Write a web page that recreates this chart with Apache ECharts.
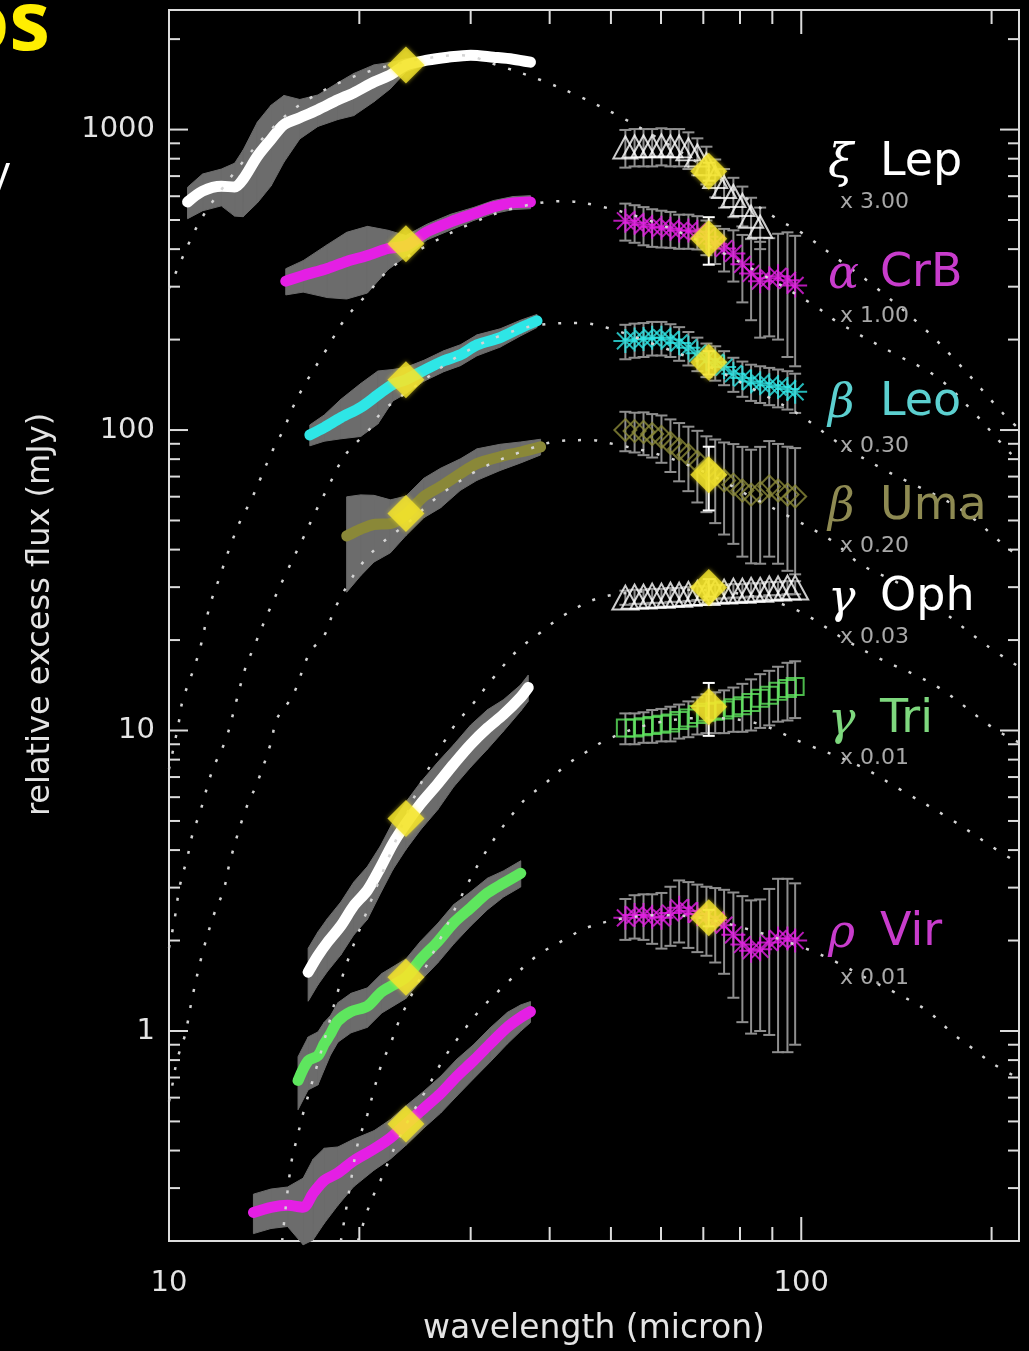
<!DOCTYPE html>
<html>
<head>
<meta charset="utf-8">
<script src="https://cdn.jsdelivr.net/npm/echarts/dist/echarts.min.js"></script>
<style>
  html, body { margin: 0; padding: 0; background: #000; }
  #chart { width: 1029px; height: 1351px; }
</style>
</head>
<body>
<div id="chart"></div>
<script>
// ---------------- Axis ticks ----------------
const xMajorTicks = [10, 100];
const xMinorTicks = [20, 30, 40, 50, 60, 70, 80, 90, 200];
const yMajorTicks = [1, 10, 100, 1000];
const yMinorTicks = [0.3, 0.4, 0.5, 0.6, 0.7, 0.8, 0.9, 2, 3, 4, 5, 6, 7, 8, 9,
  20, 30, 40, 50, 60, 70, 80, 90, 200, 300, 400, 500, 600, 700, 800, 900, 2000];

// ---------------- Star names and scale factors ----------------
const starGreek = ['ξ', 'α', 'β', 'β', 'γ', 'γ', 'ρ'];
const starNames = ['Lep', 'CrB', 'Leo', 'Uma', 'Oph', 'Tri', 'Vir'];
const starScales = ['x 3.00', 'x 1.00', 'x 0.30', 'x 0.20', 'x 0.03', 'x 0.01', 'x 0.01'];

// ---------------- IRS spectra: wavelength (micron), flux (mJy), fractional error ----------------
const irsLepWave = [10.7, 11.3, 12.1, 12.7, 13.1, 13.8, 14.5, 15.2, 16.1, 17.2, 18.5, 19.6, 21.1, 22.4, 23.7, 25.6, 27.6, 30.0, 32.6, 35.0, 37.3];
const irsLepFlux = [574, 624, 648, 644, 684, 815, 927, 1039, 1095, 1164, 1256, 1325, 1440, 1520, 1639, 1702, 1741, 1768, 1741, 1715, 1676];
const irsLepErr  = [0.12, 0.14, 0.14, 0.2, 0.25, 0.3, 0.3, 0.25, 0.15, 0.12, 0.14, 0.16, 0.14, 0.1, 0.05, 0.03, 0.03, 0.03, 0.03, 0.03, 0.03];

const irsCrbWave = [15.3, 16.3, 17.8, 19.1, 20.6, 22.2, 23.7, 25.6, 27.9, 30.3, 32.6, 35.0, 37.3];
const irsCrbFlux = [313, 327, 345, 364, 381, 402, 411, 457, 493, 524, 553, 570, 574];
const irsCrbErr  = [0.1, 0.12, 0.2, 0.25, 0.25, 0.15, 0.08, 0.06, 0.06, 0.05, 0.05, 0.05, 0.05];

const irsLeoWave = [16.7, 17.6, 18.7, 20.1, 21.4, 22.6, 23.7, 25.3, 27.2, 28.9, 30.7, 33.4, 36.0, 38.2];
const irsLeoFlux = [96.3, 102, 110, 119, 131, 142, 147, 158, 170, 178, 192, 203, 219, 231];
const irsLeoErr  = [0.08, 0.1, 0.15, 0.2, 0.2, 0.12, 0.1, 0.08, 0.08, 0.08, 0.08, 0.07, 0.06, 0.05];

const irsUmaWave = [19.1, 20.1, 21.1, 22.4, 23.7, 25.3, 26.9, 28.9, 30.7, 33.4, 36.0, 38.7];
const irsUmaFlux = [44.4, 46.8, 48.5, 48.8, 52.4, 60.1, 64.9, 71.6, 77.3, 81.5, 84.5, 87.9];
const irsUmaErr  = [0.35, 0.3, 0.25, 0.2, 0.15, 0.15, 0.15, 0.12, 0.12, 0.1, 0.08, 0.06];

const irsOphWave = [16.6, 17.2, 17.8, 18.7, 19.6, 20.6, 21.6, 22.6, 23.7, 25.0, 26.6, 28.2, 30.0, 31.9, 33.8, 36.0, 37.0];
const irsOphFlux = [1.57, 1.78, 1.97, 2.24, 2.61, 2.94, 3.5, 4.2, 4.9, 5.7, 6.64, 7.73, 8.99, 10.2, 11.3, 12.9, 13.9];
const irsOphErr  = [0.2, 0.2, 0.2, 0.2, 0.2, 0.2, 0.18, 0.18, 0.18, 0.18, 0.18, 0.16, 0.16, 0.15, 0.12, 0.1, 0.1];

const irsTriWave = [16.0, 16.6, 17.2, 17.6, 18.0, 18.5, 19.4, 20.6, 21.7, 23.7, 25.0, 26.6, 28.2, 30.0, 31.9, 33.8, 36.0];
const irsTriFlux = [0.684, 0.796, 0.827, 0.906, 0.977, 1.08, 1.16, 1.21, 1.35, 1.51, 1.73, 1.98, 2.29, 2.57, 2.88, 3.10, 3.35];
const irsTriErr  = [0.2, 0.2, 0.2, 0.18, 0.15, 0.15, 0.15, 0.15, 0.15, 0.15, 0.15, 0.15, 0.15, 0.13, 0.12, 0.1, 0.1];

const irsVirWave = [13.6, 14.5, 15.4, 16.3, 16.9, 17.6, 18.5, 19.6, 21.1, 22.4, 23.7, 25.3, 26.9, 28.5, 30.3, 32.2, 34.3, 36.0, 37.3];
const irsVirFlux = [0.249, 0.259, 0.263, 0.259, 0.288, 0.318, 0.337, 0.370, 0.405, 0.441, 0.490, 0.553, 0.620, 0.705, 0.796, 0.906, 1.03, 1.11, 1.16];
const irsVirErr  = [0.15, 0.15, 0.15, 0.25, 0.3, 0.28, 0.22, 0.18, 0.15, 0.15, 0.15, 0.14, 0.14, 0.14, 0.13, 0.13, 0.12, 0.1, 0.08];

// ---------------- MIPS SED points: wavelength (micron), flux (mJy), error (mJy) ----------------
const mipsWave = [52.7, 54.5, 56.3, 58.1, 60.1, 62.1, 64.1, 66.3, 68.5, 70.8, 73.1, 75.5, 78.1, 80.7, 83.3, 86.1, 89.0, 91.9, 95.1, 97.8];

const mipsLepWave = [52.7, 54.5, 56.3, 58.1, 60.1, 62.1, 64.1, 66.3, 68.5, 70.8, 73.1, 75.5, 78.1, 80.7, 83.3, 86.1];
const mipsLepFlux = [872, 879, 879, 879, 885, 879, 879, 859, 820, 767, 695, 644, 601, 561, 513, 475];
const mipsLepErr  = [125, 125, 125, 125, 125, 125, 125, 120, 115, 110, 100, 95, 90, 85, 80, 75];

const mipsCrbFlux = [497, 490, 482, 475, 471, 468, 461, 461, 457, 440, 417, 402, 387, 356, 332, 313, 320, 325, 315, 303];
const mipsCrbErr  = [70, 70, 70, 68, 66, 64, 60, 60, 58, 58, 60, 65, 75, 90, 100, 110, 115, 125, 140, 140];

const mipsLeoFlux = [198, 200, 201, 203, 203, 200, 195, 188, 180, 172, 168, 162, 154, 149, 145, 143, 141, 139, 137, 134];
const mipsLeoErr  = [26, 26, 26, 26, 26, 25, 25, 24, 23, 22, 22, 21, 20, 20, 20, 20, 20, 20, 20, 20];

const mipsUmaFlux = [100, 99.2, 98.5, 97.0, 94.8, 90.5, 86.5, 82.6, 78.4, 74.3, 71.0, 67.9, 65.8, 62.9, 61.0, 61.9, 64.9, 62.9, 61.0, 60.1];
const mipsUmaErr  = [15, 15, 16, 16, 17, 18, 19, 20, 21, 21, 22, 23, 24, 25, 25, 26, 27, 27, 27, 27];

const mipsOphFlux = [27.7, 27.9, 27.9, 28.1, 28.1, 28.3, 28.3, 28.5, 28.7, 28.7, 29.0, 29.0, 29.2, 29.2, 29.4, 29.4, 29.7, 29.7, 29.9, 29.9];
const mipsOphErr  = [1.5, 1.5, 1.5, 1.5, 1.5, 1.5, 1.5, 1.5, 1.5, 1.5, 1.5, 1.5, 1.5, 1.5, 1.5, 1.5, 1.5, 1.5, 1.5, 1.5];

const mipsTriFlux = [10.2, 10.2, 10.3, 10.4, 10.5, 10.6, 10.8, 11.0, 11.3, 11.5, 11.6, 11.7, 11.9, 12.1, 12.4, 12.8, 13.1, 13.5, 13.8, 14.0];
const mipsTriErr  = [1.2, 1.2, 1.2, 1.3, 1.3, 1.4, 1.4, 1.5, 1.6, 1.7, 1.8, 1.9, 2.0, 2.2, 2.4, 2.6, 2.7, 2.8, 3.0, 3.0];

const mipsVirFlux = [2.38, 2.43, 2.43, 2.40, 2.38, 2.47, 2.57, 2.51, 2.45, 2.40, 2.34, 2.25, 2.09, 1.94, 1.85, 1.87, 1.97, 2.03, 2.03, 2.0];
const mipsVirErr  = [0.37, 0.4, 0.42, 0.45, 0.5, 0.55, 0.6, 0.62, 0.62, 0.62, 0.65, 0.7, 0.8, 0.87, 0.87, 0.87, 1.0, 1.18, 1.18, 1.1];

// ---------------- MIPS 24 / 70 micron photometry (mJy) ----------------
const photWave = [23.7, 71.4];
const phot24Flux = [1639, 417, 147, 52.8, 5.1, 1.51, 0.49];
const phot70Flux = [726, 433, 168, 71, 29.9, 12.0, 2.38];
const phot70Err  = [50, 78, 15, 17, 2, 2.4, 0.15];

// ---------------- Dust models: wavelength (micron), flux (mJy) ----------------
const modelLepWave = [10.0, 10.4, 10.8, 11.2, 11.8, 13.0, 14.5, 16.1, 18.7, 21.6, 25.0, 28.9, 33.4, 38.7, 44.7, 51.7, 59.8, 69.2, 80.1, 92.6, 99.6, 115, 130, 156, 178, 209, 221];
const modelLepFlux = [296, 358, 427, 497, 587, 767, 1000, 1209, 1440, 1603, 1715, 1768, 1626, 1462, 1285, 1104, 927, 766, 610, 497, 457, 367, 303, 219, 165, 113, 101];

const modelCrbWave = [10.0, 10.35, 10.5, 10.9, 11.2, 11.6, 12.0, 12.5, 13.0, 13.45, 13.95, 14.6, 15.2, 15.7, 16.4, 17.7, 18.9, 20.5, 22.4, 25.9, 30.0, 34.7, 42.0, 48.5, 57.7, 69.2, 86.1, 104.5, 114, 140, 164, 187, 214, 221];
const modelCrbFlux = [7.43, 10.5, 12.5, 15.7, 18.8, 26.0, 32.0, 41.1, 50.5, 57.8, 68.9, 85.9, 101, 119, 142, 184, 231, 281, 345, 417, 486, 544, 578, 553, 497, 424, 332, 261, 229, 180, 150, 115, 83.9, 79.6];

const modelLeoWave = [10.0, 10.2, 10.4, 10.7, 10.9, 11.2, 11.7, 12.3, 12.8, 13.2, 13.6, 14.4, 15.3, 16.3, 17.0, 17.8, 19.0, 20.7, 21.8, 25.0, 28.9, 33.4, 38.7, 44.7, 49.3, 57.7, 69.2, 86.1, 99.6, 115, 136, 178, 212, 221];
const modelLeoFlux = [1.89, 2.34, 3.03, 3.81, 4.54, 5.36, 7.33, 9.34, 12.7, 16.1, 18.8, 25.1, 33.2, 43.7, 52.8, 63.9, 82.6, 100, 116, 144, 178, 206, 224, 227, 219, 195, 168, 133, 112, 90.0, 73.3, 54.8, 40.5, 38.1];

const modelUmaWave = [10.0, 10.1, 10.3, 10.6, 10.9, 11.3, 11.8, 12.2, 12.5, 13.2, 13.8, 14.5, 14.8, 15.7, 16.7, 17.6, 18.3, 19.9, 21.6, 23.7, 26.9, 31.1, 36.0, 41.6, 46.4, 50.4, 59.8, 71.8, 83.1, 96.1, 112, 124, 143, 162, 197, 221];
const modelUmaFlux = [0.583, 0.644, 0.802, 0.97, 1.31, 1.82, 2.47, 2.94, 3.70, 5.41, 6.73, 9.12, 10.9, 13.1, 18.2, 20.7, 25.5, 34.5, 41.7, 48.5, 61.0, 74.3, 84.5, 92.0, 92.6, 89.9, 82.6, 71.0, 60.1, 51.3, 42.7, 35.8, 30.8, 26.2, 19.1, 16.3];

const modelOphWave = [15.1, 15.6, 16.0, 16.3, 17.4, 18.9, 20.3, 22.4, 25.0, 28.2, 30.0, 32.6, 35.6, 38.7, 42.0, 47.6, 55.7, 66.8, 83.1, 98.6, 118, 132, 164, 201, 221];
const modelOphFlux = [0.2, 0.361, 0.454, 0.532, 0.853, 1.57, 2.34, 3.90, 6.64, 10.3, 12.0, 15.0, 18.5, 21.2, 24.1, 27.5, 29.0, 29.4, 28.1, 25.1, 19.9, 17.5, 14.0, 10.2, 9.12];

const modelTriWave = [18.7, 19.4, 19.9, 20.6, 21.1, 21.7, 22.4, 23.2, 25.0, 26.9, 28.9, 31.1, 33.4, 35.3, 36.9, 38.9, 42.7, 46.4, 49.3, 57.7, 69.2, 83.1, 102, 124, 143, 172, 206, 221];
const modelTriFlux = [0.2, 0.318, 0.424, 0.528, 0.638, 0.778, 0.906, 1.10, 1.51, 2.04, 2.77, 3.70, 4.65, 5.41, 6.01, 6.53, 7.73, 8.65, 9.34, 10.5, 11.0, 10.7, 8.99, 7.60, 6.38, 5.08, 3.95, 3.61];

const modelVirWave = [19.9, 20.8, 21.6, 22.8, 24.1, 25.6, 27.2, 28.9, 31.1, 34.3, 38.2, 42.7, 45.6, 51.7, 59.8, 69.2, 83.1, 101, 114, 129, 140, 158, 174, 187, 201, 221];
const modelVirFlux = [0.2, 0.267, 0.318, 0.414, 0.520, 0.644, 0.809, 0.970, 1.18, 1.45, 1.78, 2.04, 2.20, 2.36, 2.43, 2.38, 2.17, 1.89, 1.69, 1.47, 1.35, 1.17, 0.977, 0.872, 0.778, 0.695];

// ---------------- Styling ----------------
const AXIS_COLOR = '#dcdcdc';
const BAND_COLOR = '#6c6c6c';
const BAR_COLOR = '#8e8e8e';
const YELLOW = '#f3e42c';
const MODEL_COLOR = '#d4d4d4';
const ASTERISK = 'path://M10 0L10 20M0 10L20 10M3 3L17 17M3 17L17 3';

const stars = [
  { irs: [irsLepWave, irsLepFlux, irsLepErr], mips: [mipsLepWave, mipsLepFlux, mipsLepErr], model: [modelLepWave, modelLepFlux],
    line: '#ffffff', label: '#ffffff', symbol: 'triangle', size: [24, 22] },
  { irs: [irsCrbWave, irsCrbFlux, irsCrbErr], mips: [mipsWave, mipsCrbFlux, mipsCrbErr], model: [modelCrbWave, modelCrbFlux],
    line: '#e41fe4', label: '#c83ccc', symbol: ASTERISK, size: 24 },
  { irs: [irsLeoWave, irsLeoFlux, irsLeoErr], mips: [mipsWave, mipsLeoFlux, mipsLeoErr], model: [modelLeoWave, modelLeoFlux],
    line: '#2ee6e6', label: '#5cd0d0', symbol: ASTERISK, size: 24 },
  { irs: [irsUmaWave, irsUmaFlux, irsUmaErr], mips: [mipsWave, mipsUmaFlux, mipsUmaErr], model: [modelUmaWave, modelUmaFlux],
    line: '#8a8838', label: '#8e8a52', symbol: 'diamond', size: 22 },
  { irs: [irsOphWave, irsOphFlux, irsOphErr], mips: [mipsWave, mipsOphFlux, mipsOphErr], model: [modelOphWave, modelOphFlux],
    line: '#ffffff', label: '#ffffff', symbol: 'triangle', size: [26, 24] },
  { irs: [irsTriWave, irsTriFlux, irsTriErr], mips: [mipsWave, mipsTriFlux, mipsTriErr], model: [modelTriWave, modelTriFlux],
    line: '#5ee65e', label: '#7ed87e', symbol: 'rect', size: 17 },
  { irs: [irsVirWave, irsVirFlux, irsVirErr], mips: [mipsWave, mipsVirFlux, mipsVirErr], model: [modelVirWave, modelVirFlux],
    line: '#e41fe4', label: '#c83ccc', symbol: ASTERISK, size: 24 }
];

const pairs = (xs, ys) => ys.map((y, i) => [xs[i], y]);

// ---------------- Custom renderers ----------------
function renderBand(params, api) {
  const a = api.coord([api.value(0), api.value(1)]);
  const b = api.coord([api.value(0), api.value(2)]);
  const c = api.coord([api.value(3), api.value(5)]);
  const d = api.coord([api.value(3), api.value(4)]);
  return { type: 'polygon', shape: { points: [a, b, c, d] },
           style: { fill: BAND_COLOR, stroke: BAND_COLOR, lineWidth: 1 } };
}

function makeErrRender(color, capHalf, width) {
  return function (params, api) {
    const x = api.value(0), y = api.value(1), e = api.value(2);
    const hi = api.coord([x, y + e]);
    const lo = api.coord([x, Math.max(y - e, 0.2)]);
    const st = { stroke: color, lineWidth: width };
    return { type: 'group', children: [
      { type: 'line', shape: { x1: hi[0], y1: hi[1], x2: lo[0], y2: lo[1] }, style: st },
      { type: 'line', shape: { x1: hi[0] - capHalf, y1: hi[1], x2: hi[0] + capHalf, y2: hi[1] }, style: st },
      { type: 'line', shape: { x1: lo[0] - capHalf, y1: lo[1], x2: lo[0] + capHalf, y2: lo[1] }, style: st }
    ] };
  };
}

function renderTick(params, api) {
  const cs = params.coordSys;
  const isX = api.value(2) === 0;
  const major = api.value(3) === 1;
  const p = api.coord([api.value(0), api.value(1)]);
  const st = { stroke: AXIS_COLOR, lineWidth: 2 };
  if (isX) {
    const len = major ? 24 : 14;
    const yb = cs.y + cs.height, yt = cs.y;
    return { type: 'group', children: [
      { type: 'line', shape: { x1: p[0], y1: yb, x2: p[0], y2: yb - len }, style: st },
      { type: 'line', shape: { x1: p[0], y1: yt, x2: p[0], y2: yt + len }, style: st }
    ] };
  }
  const len = major ? 19 : 11;
  const xl = cs.x, xr = cs.x + cs.width;
  return { type: 'group', children: [
    { type: 'line', shape: { x1: xl, y1: p[1], x2: xl + len, y2: p[1] }, style: st },
    { type: 'line', shape: { x1: xr, y1: p[1], x2: xr - len, y2: p[1] }, style: st }
  ] };
}

// ---------------- Build series ----------------
const bandData = [];
const mipsBarData = [];
stars.forEach(s => {
  const [w, f, e] = s.irs;
  for (let i = 0; i < w.length - 1; i++) {
    bandData.push([w[i], f[i] * (1 - e[i]), f[i] * (1 + e[i]), w[i + 1], f[i + 1] * (1 - e[i + 1]), f[i + 1] * (1 + e[i + 1])]);
  }
  const [mw, mf, me] = s.mips;
  mf.forEach((y, i) => mipsBarData.push([mw[i], y, me[i]]));
});

const tickData = []
  .concat(xMajorTicks.map(v => [v, 1, 0, 1]))
  .concat(xMinorTicks.map(v => [v, 1, 0, 0]))
  .concat(yMajorTicks.map(v => [10, v, 1, 1]))
  .concat(yMinorTicks.map(v => [10, v, 1, 0]));

const series = [];

series.push({ type: 'custom', renderItem: renderBand, data: bandData, z: 1, silent: true });

stars.forEach(s => {
  series.push({
    type: 'line', data: pairs(s.irs[0], s.irs[1]), showSymbol: false, smooth: 0.3, z: 2, silent: true,
    lineStyle: { color: s.line, width: 11, cap: 'round', join: 'round' }
  });
});

series.push({ type: 'custom', renderItem: makeErrRender(BAR_COLOR, 6, 2), data: mipsBarData, z: 2, silent: true });

stars.forEach(s => {
  series.push({
    type: 'scatter', data: pairs(s.mips[0], s.mips[1]), symbol: s.symbol, symbolSize: s.size, z: 3, silent: true,
    itemStyle: { color: 'rgba(0,0,0,0)', borderColor: s.line, borderWidth: 2 }
  });
});

stars.forEach(s => {
  series.push({
    type: 'line', data: pairs(s.model[0], s.model[1]), showSymbol: false, smooth: 0.35, z: 4, silent: true,
    lineStyle: { color: MODEL_COLOR, width: 2.5, type: [3, 13] }
  });
});

series.push({
  type: 'custom', renderItem: makeErrRender('#ffffff', 6, 2), z: 5, silent: true,
  data: phot70Flux.map((f, i) => [photWave[1], f, phot70Err[i]])
});

series.push({
  type: 'scatter', symbol: 'diamond', symbolSize: 37, z: 6, silent: true,
  itemStyle: { color: YELLOW, shadowBlur: 4, shadowColor: 'rgba(255,235,40,0.7)' },
  data: phot24Flux.map(f => [photWave[0], f]).concat(phot70Flux.map(f => [photWave[1], f]))
});

series.push({ type: 'custom', renderItem: renderTick, data: tickData, z: 7, silent: true });

// ---------------- Labels ----------------
const labelY = [163, 274, 403, 507, 598, 720, 933];
const scaleY = [202, 316, 446, 546, 637, 758, 978];
const graphic = [];
stars.forEach((s, i) => {
  graphic.push({ type: 'text', x: 828, y: labelY[i] + 2, z: 10, style: {
    text: starGreek[i], fill: s.label, fontSize: 46, fontFamily: 'DejaVu Serif', fontStyle: 'italic',
    textAlign: 'left', textVerticalAlign: 'middle', align: 'left', verticalAlign: 'middle' } });
  graphic.push({ type: 'text', x: 880, y: labelY[i], z: 10, style: {
    text: starNames[i], fill: s.label, fontSize: 46, fontFamily: 'DejaVu Sans',
    textAlign: 'left', textVerticalAlign: 'middle', align: 'left', verticalAlign: 'middle' } });
  graphic.push({ type: 'text', x: 840, y: scaleY[i], z: 10, style: {
    text: starScales[i], fill: '#a8a8a8', fontSize: 22, fontFamily: 'DejaVu Sans',
    textAlign: 'left', textVerticalAlign: 'middle', align: 'left', verticalAlign: 'middle' } });
});
// fragments of the surrounding slide text
graphic.push({ type: 'text', x: 50, y: 68, z: 10, style: {
  text: 'os', fill: '#ffee00', fontSize: 82, fontWeight: 'bold', fontFamily: 'Open Sans',
  textAlign: 'right', textVerticalAlign: 'bottom', align: 'right', verticalAlign: 'bottom' } });
graphic.push({ type: 'text', x: 10, y: 196, z: 10, style: {
  text: 'y', fill: '#ffffff', fontSize: 44, fontFamily: 'Open Sans',
  textAlign: 'right', textVerticalAlign: 'bottom', align: 'right', verticalAlign: 'bottom' } });

const decadeLabel = v => {
  const l = Math.log10(v);
  return Math.abs(l - Math.round(l)) < 1e-6 ? String(Math.round(v)) : '';
};

const chart = echarts.init(document.getElementById('chart'), null, { renderer: 'canvas' });
chart.setOption({
  backgroundColor: '#000000',
  animation: false,
  grid: { left: 169, top: 10, width: 850, height: 1239, show: true, borderColor: AXIS_COLOR, borderWidth: 2, backgroundColor: 'transparent' },
  xAxis: {
    type: 'log', logBase: 10, min: 10, max: 221,
    axisLine: { show: false }, axisTick: { show: false }, splitLine: { show: false },
    axisLabel: { formatter: decadeLabel, color: '#e4e4e4', fontSize: 29, fontFamily: 'DejaVu Sans', margin: 28,
                 showMinLabel: true, showMaxLabel: false },
    name: 'wavelength (micron)', nameLocation: 'middle', nameGap: 72,
    nameTextStyle: { color: '#e4e4e4', fontSize: 33, fontFamily: 'DejaVu Sans' }
  },
  yAxis: {
    type: 'log', logBase: 10, min: 0.2, max: 2500,
    axisLine: { show: false }, axisTick: { show: false }, splitLine: { show: false },
    axisLabel: { formatter: decadeLabel, color: '#e4e4e4', fontSize: 29, fontFamily: 'DejaVu Sans', margin: 14,
                 showMinLabel: false, showMaxLabel: false },
    name: 'relative excess flux (mJy)', nameLocation: 'middle', nameGap: 112, nameRotate: 90,
    nameTextStyle: { color: '#e4e4e4', fontSize: 32, fontFamily: 'DejaVu Sans', padding: [0, 0, 0, 22] }
  },
  graphic: graphic,
  series: series
});
</script>
</body>
</html>
